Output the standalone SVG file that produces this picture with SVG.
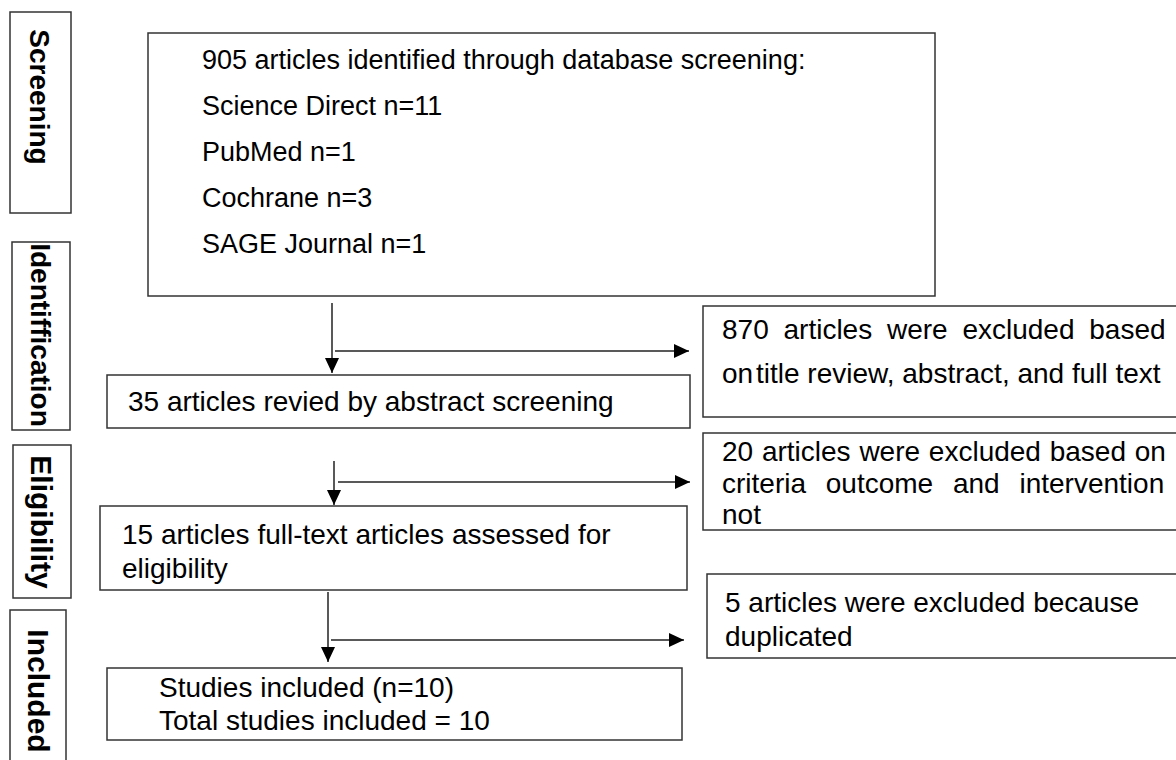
<svg xmlns="http://www.w3.org/2000/svg" width="1176" height="760" viewBox="0 0 1176 760">
<defs>
<marker id="ah" markerUnits="userSpaceOnUse" markerWidth="16" markerHeight="14" refX="15" refY="7" orient="auto">
<path d="M0,0 L15,7 L0,14 Z" fill="#000"/>
</marker>
<style>
.box{fill:#fff;stroke:#333;stroke-width:1.5}
.t{font-family:"Liberation Sans",Arial,sans-serif;font-size:28px;fill:#000}
.t27{font-size:27px}
.lab{font-family:"Liberation Sans",Arial,sans-serif;font-size:28px;font-weight:bold;fill:#000}
.c{fill:none;stroke:#222;stroke-width:1.5}
</style>
</defs>
<rect width="1176" height="760" fill="#fff"/>

<g id="stage-screening">
<rect class="box" x="10" y="12" width="61" height="201"/>
<text class="lab" text-anchor="middle" transform="translate(30,97) rotate(90)">Screening</text>
</g>
<g id="stage-identification">
<rect class="box" x="12" y="242" width="58" height="188"/>
<text class="lab" text-anchor="middle" transform="translate(31,335) rotate(90)">Identiffication</text>
</g>
<g id="stage-eligibility">
<rect class="box" x="13" y="445" width="58" height="153"/>
<text class="lab" text-anchor="middle" style="font-size:30px" transform="translate(31,522) rotate(90)">Eligibility</text>
</g>
<g id="stage-included">
<rect class="box" x="10" y="610" width="56" height="170"/>
<text class="lab" text-anchor="middle" style="font-size:30px" transform="translate(28,691) rotate(90)">Included</text>
</g>

<g id="identified">
<rect class="box" x="148" y="33" width="787" height="263"/>
<text class="t t27" x="202" y="69">905 articles identified through database screening:</text>
<text class="t t27" x="202" y="115">Science Direct n=11</text>
<text class="t t27" x="202" y="161">PubMed n=1</text>
<text class="t t27" x="202" y="207">Cochrane n=3</text>
<text class="t t27" x="202" y="253">SAGE Journal n=1</text>
</g>

<g id="excluded-870">
<rect class="box" x="703" y="306" width="480" height="111"/>
<text class="t" x="722" y="339" word-spacing="7">870 articles were excluded based</text>
<text class="t" x="722" y="383">on<tspan x="756">title review, abstract, and full text</tspan></text>
</g>

<g id="reviewed-35">
<rect class="box" x="107" y="375" width="583" height="53"/>
<text class="t" x="128" y="411">35 articles revied by abstract screening</text>
</g>

<g id="excluded-20">
<rect class="box" x="703" y="433" width="480" height="97"/>
<text class="t" x="722" y="461" word-spacing="1">20 articles were excluded based on</text>
<text class="t" x="722" y="493" word-spacing="12">criteria outcome and intervention</text>
<text class="t" x="722" y="524">not</text>
</g>

<g id="assessed-15">
<rect class="box" x="100" y="506" width="587" height="84"/>
<text class="t" x="122" y="544">15 articles full-text articles assessed for</text>
<text class="t" x="122" y="578">eligibility</text>
</g>

<g id="excluded-5">
<rect class="box" x="707" y="574" width="476" height="84"/>
<text class="t" x="725" y="612">5 articles were excluded because</text>
<text class="t" x="725" y="646">duplicated</text>
</g>

<g id="included">
<rect class="box" x="107" y="668" width="575" height="72"/>
<text class="t" x="159" y="697">Studies included (n=10)</text>
<text class="t" x="159" y="730">Total studies included = 10</text>
</g>

<g id="connectors">
<line class="c" x1="332" y1="303" x2="332" y2="373" marker-end="url(#ah)"/>
<line class="c" x1="335" y1="351" x2="689" y2="351" marker-end="url(#ah)"/>
<line class="c" x1="334" y1="461" x2="334" y2="505" marker-end="url(#ah)"/>
<line class="c" x1="338" y1="482" x2="690" y2="482" marker-end="url(#ah)"/>
<line class="c" x1="328" y1="592" x2="328" y2="662" marker-end="url(#ah)"/>
<line class="c" x1="331" y1="640" x2="684" y2="640" marker-end="url(#ah)"/>
</g>
</svg>
